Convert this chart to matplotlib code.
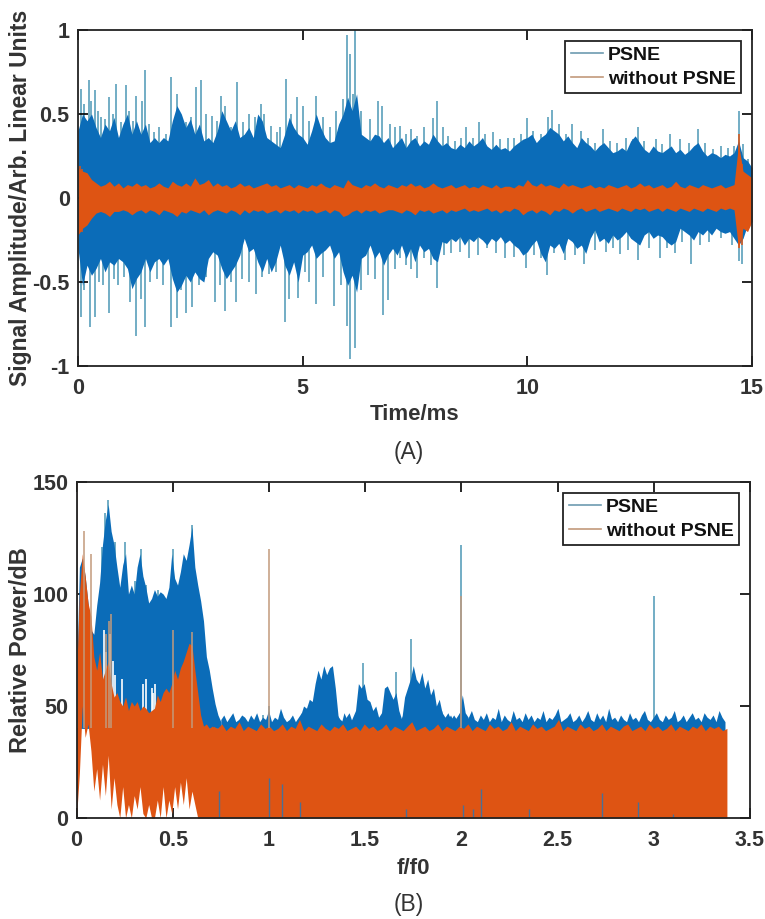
import matplotlib
matplotlib.use('Agg')
import matplotlib.pyplot as plt
import numpy as np

plt.rcParams['font.family'] = ['Liberation Sans', 'DejaVu Sans']

# (A) time signal
t_core = np.linspace(0, 15, 151)
psne_top = [.40,.50,.46,.50,.42,.36,.44,.40,.48,.36,
            .44,.50,.38,.46,.38,.44,.33,.36,.33,.36,
            .34,.46,.55,.50,.42,.47,.38,.44,.34,.36,
            .33,.40,.52,.46,.40,.46,.36,.38,.42,.36,
            .50,.46,.36,.34,.32,.30,.38,.48,.42,.38,
            .36,.32,.40,.50,.42,.36,.33,.34,.44,.50,
            .60,.52,.62,.38,.36,.34,.38,.37,.33,.36,
            .30,.33,.36,.30,.34,.36,.31,.34,.32,.38,
            .34,.31,.33,.30,.29,.32,.30,.34,.31,.33,
            .36,.31,.29,.32,.29,.30,.28,.31,.33,.35,
            .36,.38,.33,.36,.38,.42,.40,.38,.34,.37,
            .33,.30,.36,.33,.31,.28,.31,.33,.30,.27,
            .28,.30,.28,.34,.37,.33,.29,.27,.31,.28,
            .27,.29,.31,.27,.29,.26,.28,.31,.33,.28,
            .25,.27,.26,.24,.26,.25,.27,.34,.24,.22,.18]
psne_bot = [-.30,-.52,-.40,-.46,-.42,-.36,-.44,-.38,-.40,-.36,
            -.38,-.42,-.54,-.48,-.44,-.36,-.44,-.38,-.36,-.40,
            -.36,-.48,-.56,-.52,-.46,-.50,-.44,-.48,-.50,-.36,
            -.32,-.34,-.42,-.48,-.44,-.40,-.34,-.24,-.32,-.30,
            -.38,-.44,-.36,-.44,-.38,-.28,-.40,-.46,-.38,-.50,
            -.34,-.32,-.28,-.36,-.33,-.31,-.28,-.36,-.32,-.44,
            -.52,-.46,-.56,-.36,-.34,-.28,-.36,-.32,-.40,-.34,
            -.30,-.34,-.28,-.36,-.30,-.38,-.28,-.32,-.30,-.36,
            -.38,-.26,-.27,-.24,-.26,-.23,-.28,-.24,-.26,-.23,
            -.25,-.28,-.24,-.26,-.23,-.27,-.25,-.28,-.30,-.34,
            -.32,-.28,-.25,-.33,-.38,-.28,-.30,-.27,-.33,-.24,
            -.26,-.30,-.28,-.33,-.24,-.19,-.26,-.24,-.27,-.22,
            -.25,-.23,-.20,-.24,-.26,-.28,-.22,-.20,-.24,-.22,
            -.23,-.26,-.28,-.26,-.18,-.20,-.22,-.25,-.20,-.22,
            -.19,-.22,-.18,-.20,-.21,-.20,-.24,-.28,-.24,-.16,-.14]

spike_up_t = [.07,.14,.24,.3,.37,.45,.52,.6,.7,.78,.84,.95,1.06,1.13,1.22,1.3,1.43,1.5,1.58,1.7,1.8,1.95,2.08,2.2,2.28,2.4,2.52,2.63,2.74,2.85,2.98,3.1,3.19,3.28,3.4,3.53,3.68,3.8,3.95,4.07,4.15,4.3,4.42,4.5,4.63,4.75,4.87,5.0,5.15,5.3,5.45,5.6,5.75,5.89,5.98,6.05,6.12,6.17,6.3,6.5,6.67,6.77,6.95,7.06,7.16,7.3,7.42,7.55,7.7,7.89,8.0,8.12,8.23,8.4,8.52,8.63,8.78,8.92,9.05,9.24,9.4,9.57,9.7,9.85,10.0,10.12,10.3,10.46,10.56,10.7,10.85,11.0,11.19,11.35,11.5,11.68,11.83,12.0,12.2,12.35,12.46,12.6,12.87,13.0,13.18,13.39,13.6,13.8,13.95,14.13,14.3,14.47,14.6,14.71,14.81,14.91]
spike_up_v = [.65,.56,.70,.58,.64,.52,.48,.47,.60,.50,.68,.45,.67,.52,.46,.61,.58,.76,.44,.39,.42,.38,.72,.62,.48,.45,.48,.66,.70,.50,.49,.46,.61,.55,.42,.69,.45,.50,.48,.56,.50,.43,.39,.42,.71,.50,.60,.55,.46,.61,.48,.42,.52,.59,.97,.86,.62,1.0,.52,.47,.58,.55,.44,.42,.43,.38,.41,.37,.42,.475,.58,.42,.37,.34,.36,.42,.36,.455,.38,.39,.35,.36,.36,.38,.475,.40,.38,.485,.525,.44,.38,.44,.40,.36,.33,.41,.34,.33,.36,.35,.42,.34,.35,.32,.38,.35,.33,.41,.33,.29,.31,.30,.31,.515,.32,.23]

spike_lo_t = [.06,.14,.26,.37,.46,.55,.7,.8,.9,1.02,1.15,1.28,1.4,1.5,1.6,1.75,1.9,2.08,2.2,2.3,2.41,2.54,2.7,2.85,3.04,3.15,3.27,3.4,3.52,3.66,3.8,3.96,4.1,4.25,4.4,4.61,4.7,4.89,5.05,5.15,5.3,5.45,5.69,5.85,5.98,6.05,6.17,6.3,6.45,6.6,6.79,6.89,7.05,7.17,7.3,7.4,7.54,7.7,7.85,7.98,8.15,8.3,8.5,8.7,8.9,9.1,9.3,9.5,9.7,9.97,10.15,10.3,10.43,10.6,10.84,11.05,11.26,11.5,11.75,11.9,12.06,12.25,12.47,12.7,12.95,13.1,13.29,13.45,13.64,13.85,14.05,14.3,14.55,14.71,14.77,14.9]
spike_lo_v = [-.706,-.55,-.77,-.706,-.50,-.52,-.686,-.48,-.52,-.47,-.62,-.82,-.60,-.77,-.50,-.48,-.52,-.77,-.716,-.55,-.686,-.647,-.52,-.47,-.617,-.52,-.67,-.50,-.617,-.48,-.50,-.573,-.47,-.45,-.44,-.736,-.603,-.597,-.44,-.50,-.63,-.47,-.643,-.52,-.762,-.96,-.895,-.55,-.46,-.48,-.696,-.607,-.42,-.36,-.40,-.42,-.474,-.36,-.40,-.534,-.34,-.33,-.32,-.36,-.34,-.30,-.33,-.36,-.35,-.415,-.34,-.36,-.458,-.33,-.37,-.34,-.39,-.31,-.32,-.30,-.335,-.31,-.37,-.30,-.36,-.30,-.33,-.26,-.39,-.28,-.26,-.24,-.28,-.375,-.39,-.17]

no_top = [.18,.16,.15,.11,.09,.07,.08,.10,.07,.09,
          .06,.08,.07,.09,.07,.08,.06,.07,.09,.07,
          .06,.10,.08,.07,.09,.07,.12,.08,.09,.11,
          .07,.09,.07,.08,.06,.07,.09,.07,.08,.06,
          .07,.08,.09,.07,.08,.06,.07,.08,.06,.08,
          .07,.06,.08,.07,.09,.07,.06,.08,.07,.06,
          .11,.08,.07,.06,.08,.07,.09,.07,.06,.08,
          .07,.06,.08,.07,.09,.07,.08,.06,.07,.09,
          .07,.06,.07,.08,.06,.07,.08,.06,.07,.06,
          .08,.07,.06,.08,.06,.07,.07,.06,.08,.07,
          .11,.08,.07,.09,.07,.08,.07,.06,.09,.07,
          .08,.07,.06,.07,.08,.06,.07,.06,.08,.07,
          .06,.07,.08,.06,.07,.09,.07,.08,.06,.07,
          .08,.06,.07,.10,.07,.06,.08,.07,.06,.08,
          .07,.06,.07,.08,.06,.07,.08,.32,.16,.14,.12]
no_bot = [-.22,-.18,-.16,-.12,-.09,-.08,-.09,-.11,-.08,-.08,
          -.07,-.08,-.10,-.08,-.07,-.09,-.07,-.08,-.10,-.07,
          -.08,-.09,-.11,-.08,-.09,-.07,-.08,-.09,-.07,-.10,
          -.08,-.07,-.08,-.09,-.07,-.08,-.10,-.07,-.09,-.07,
          -.08,-.07,-.09,-.08,-.07,-.09,-.07,-.08,-.07,-.09,
          -.07,-.08,-.07,-.09,-.08,-.07,-.09,-.07,-.08,-.11,
          -.10,-.08,-.07,-.09,-.07,-.08,-.07,-.09,-.08,-.07,
          -.07,-.08,-.09,-.07,-.08,-.10,-.07,-.08,-.07,-.09,
          -.08,-.07,-.09,-.07,-.08,-.07,-.06,-.08,-.07,-.08,
          -.07,-.06,-.08,-.07,-.09,-.07,-.08,-.06,-.07,-.10,
          -.08,-.07,-.09,-.07,-.08,-.10,-.07,-.08,-.06,-.07,
          -.09,-.07,-.06,-.08,-.07,-.06,-.08,-.07,-.06,-.07,
          -.08,-.06,-.07,-.08,-.06,-.07,-.06,-.08,-.07,-.06,
          -.08,-.06,-.07,-.08,-.06,-.07,-.08,-.06,-.07,-.08,
          -.06,-.07,-.08,-.06,-.07,-.06,-.07,-.30,-.18,-.20,-.14]
no_spike_t = [.04,.1,.16,14.71,14.77]
no_spike_hi = [.19,.17,.15,.38,.20]
no_spike_lo = [-.2,-.2,-.16,-.30,-.28]

# (B) spectrum
f_low = np.arange(0, .751, .015)
db_low = [58,112,116,108,96,84,82,95,105,122,
          133,140,128,122,112,103,113,118,100,104,
          100,112,118,108,103,96,98,102,99,101,
          100,98,103,118,107,104,110,118,115,122,
          130,112,104,97,88,72,66,58,51,46,43]
f_hump = np.arange(1.15, 2.04, .015)
db_hump = [43,46,50,49,53,52,60,66,62,68,
           64,67,68,58,45,42,47,44,42,45,
           48,60,58,60,53,52,48,50,45,47,
           58,59,56,53,56,48,44,54,58,62,
           68,62,60,65,58,62,55,58,50,53,
           47,45,47,44,46,44,47,55,47,45]

blue_spike_f = [.13,.15,.163,.2,.25,.305,.334,.36,.425,.5,.6,.97,1.0,1.49,1.66,1.74,2.0,3.0]
blue_spike_db = [121,136,142,123,123,106,120,104,102,120,131,46,50,69,65,80,122,99]

f_floor = np.linspace(.75, 3.37, 170)
db_floor = [44,46,43,45,47,43,44,46,45,43,46,44,47,43,45,44,48,43,45,44,49,45,43,44,46,43,45,47,44,43,46,44,43,45,44,47,44,45,43,46,
            44,43,45,47,43,44,46,45,44,43,45,44,46,43,45,44,47,43,44,45,43,46,44,45,43,47,44,43,45,46,44,43,45,44,48,43,44,46,43,45,
            47,44,43,45,48,44,43,46,44,47,43,45,44,49,43,46,44,43,48,44,45,43,47,44,46,43,45,44,48,43,45,44,46,49,43,44,45,47,43,44,
            46,43,45,48,44,43,47,44,46,43,49,44,45,43,46,44,43,47,44,45,43,46,48,44,43,45,47,44,43,46,44,45,48,43,44,46,43,45,47,44,
            45,43,47,45,44,46,43,48,45,43]

f_or = np.arange(0, .721, .015)
db_or_top = [62,100,118,108,96,90,72,66,74,62,
             66,70,60,54,56,52,50,54,48,52,
             50,52,48,50,49,47,48,49,55,52,
             56,58,56,60,66,62,67,70,74,78,
             77,66,56,46,41,42,40,41,40]
db_or_bot = [0,20,50,36,42,30,12,22,8,24,
             10,28,4,18,6,0,14,0,6,0,
             10,4,14,2,0,6,0,0,8,0,
             14,0,8,2,14,4,16,6,18,4,
             12,6,0,0,0,0,0,0,0]
or_spike_f = [.002,.04,.075,.155,.168,.18,.5,.6,1.0,2.0]
or_spike_db = [150,128,118,82,88,91,84,83,120,99]
or_floor_f = np.linspace(.71, 3.38, 120)
or_floor_db = [41,40,42,39,41,40,43,39,41,40,39,42,40,41,39,40,42,39,41,40,44,39,41,40,39,42,40,39,41,40,42,39,40,41,39,42,40,41,39,40,
               42,39,41,40,39,41,43,39,40,41,39,40,42,39,41,40,39,41,40,42,39,41,40,39,42,40,41,39,40,43,39,41,40,39,42,40,41,39,40,41,
               44,39,41,40,39,42,40,41,39,40,42,39,41,40,39,41,42,39,40,41,39,42,40,41,39,40,42,39,41,40,39,41,40,42,39,41,40,41,39,40]
# white slits between the two curves
slit_f = [.145,.155,.175,.19,.2,.235,.345,.36,.39,.395,.41]
slit_lo = [50,46,56,50,52,48,46,44,46,44,46]
slit_hi = [84,74,82,70,64,62,60,62,58,56,60]
dip_f = [.74,1.0,1.07,1.16,1.71,2.01,2.06,2.1,2.35,2.73,2.92,3.1]
dip_db = [12,18,15,7,4,6,4,13,4,11,7,2]

BLUE = '#0b6cb8'
BLUE_EDGE = '#4c97b5'
ORANGE = '#de5413'
TAN = '#c29a7c'
GREY = '#333333'

fig = plt.figure(figsize=(7.65, 9.19), dpi=100)
W, H = 765.0, 919.0
ax1 = fig.add_axes([78/W, 1 - 366/H, 674/W, 336/H])
ax2 = fig.add_axes([76.5/W, 1 - 818/H, 673.5/W, 336/H])

# panel A
ax1.vlines(spike_up_t, 0, spike_up_v, color=BLUE_EDGE, lw=1.1, zorder=1)
ax1.vlines(spike_lo_t, spike_lo_v, 0, color=BLUE_EDGE, lw=1.1, zorder=1)
ax1.fill_between(t_core, psne_bot, psne_top, color=BLUE, lw=0, zorder=2)
ax1.fill_between(t_core, no_bot, no_top, color=ORANGE, lw=0, zorder=3)
ax1.vlines(no_spike_t, no_spike_lo, no_spike_hi, color=ORANGE, lw=1.1, zorder=3)
ax1.plot([], [], color='#6d9bb0', lw=1.2, label='PSNE')
ax1.plot([], [], color=TAN, lw=1.2, label='without PSNE')
ax1.set_xlim(0, 15)
ax1.set_ylim(-1, 1)
ax1.set_xticks([0, 5, 10, 15])
ax1.set_xticklabels(['0', '5', '10', '15'])
ax1.set_yticks([-1, -.5, 0, .5, 1])
ax1.set_yticklabels(['-1', '-0.5', '0', '0.5', '1'])
ax1.set_xlabel('Time/ms', fontsize=16, fontweight='bold', color=GREY, labelpad=3)
ax1.set_ylabel('Signal Amplitude/Arb. Linear Units', fontsize=16.5, fontweight='bold', color=GREY, labelpad=0)

# panel B
ax2.vlines(blue_spike_f, 40, blue_spike_db, color=BLUE_EDGE, lw=1.1, zorder=1)
ax2.fill_between(f_low, 40, db_low, color=BLUE, lw=0, zorder=2)
ax2.fill_between(f_hump, 30, db_hump, color=BLUE, lw=0, zorder=2)
ax2.fill_between(f_floor, 30, db_floor, color=BLUE, lw=0, zorder=2)
ax2.vlines(slit_f, slit_lo, slit_hi, color='white', lw=1.2, zorder=2.5)
ax2.fill_between(f_or, db_or_bot, db_or_top, color=ORANGE, lw=0, zorder=3)
ax2.fill_between(or_floor_f, 0, or_floor_db, color=ORANGE, lw=0, zorder=3)
ax2.vlines(or_spike_f, 40, or_spike_db, color=TAN, lw=1.1, zorder=3)
ax2.vlines(dip_f, 0, dip_db, color='#4a6f95', lw=1.0, zorder=4)
ax2.plot([], [], color='#6d9bb0', lw=1.2, label='PSNE')
ax2.plot([], [], color=TAN, lw=1.2, label='without PSNE')
ax2.set_xlim(0, 3.5)
ax2.set_ylim(0, 150)
ax2.set_xticks([0, .5, 1, 1.5, 2, 2.5, 3, 3.5])
ax2.set_xticklabels(['0', '0.5', '1', '1.5', '2', '2.5', '3', '3.5'])
ax2.set_yticks([0, 50, 100, 150])
ax2.set_xlabel('f/f0', fontsize=16, fontweight='bold', color=GREY, labelpad=5)
ax2.set_ylabel('Relative Power/dB', fontsize=17, fontweight='bold', color=GREY, labelpad=0)

for ax in (ax1, ax2):
    ax.tick_params(direction='in', top=True, right=True, length=7, width=1.2, labelsize=15.5,
                   labelcolor=GREY, pad=6)
    for lab in ax.get_xticklabels() + ax.get_yticklabels():
        lab.set_fontweight('bold')
    ax.tick_params(axis='x', pad=9)
    for s in ax.spines.values():
        s.set_linewidth(1.3)
        s.set_color('#222222')
        s.set_zorder(5)
    leg = ax.legend(loc='upper right', bbox_to_anchor=(0.9837, 0.967), fontsize=14, frameon=True,
                    fancybox=False, framealpha=1, edgecolor='#222222', borderaxespad=0,
                    handlelength=1.65, labelspacing=0.3, borderpad=0.28, handletextpad=0.25)
    leg.set_zorder(6)
    leg.get_frame().set_linewidth(1.3)
    for txt in leg.get_texts():
        txt.set_fontweight('bold')
        txt.set_color('#111111')

fig.text(409/W, 1 - 453/H, '(A)', fontsize=16.5, color=GREY, ha='center', va='center')
fig.text(409/W, 1 - 905/H, '(B)', fontsize=16.5, color=GREY, ha='center', va='center')

fig.savefig('out.png', dpi=100)
